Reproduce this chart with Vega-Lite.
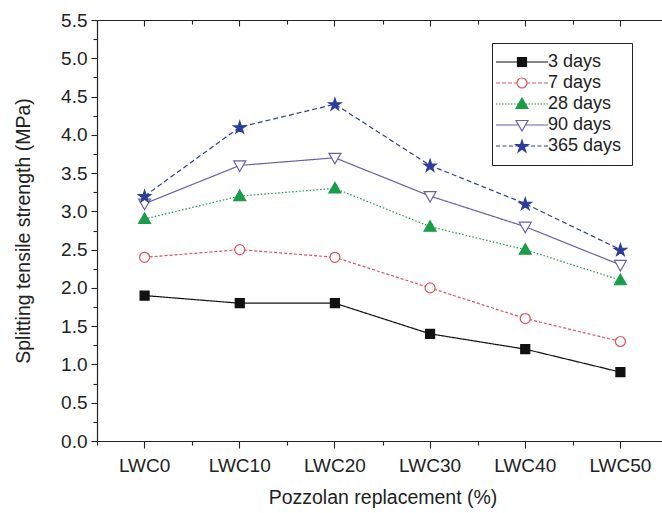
{
  "$schema": "https://vega.github.io/schema/vega-lite/v6.json",
  "autosize": {"type": "none"},
  "width": 571,
  "height": 421,
  "padding": {"left": 97, "top": 20, "right": -6, "bottom": 72},
  "background": "white",
  "config": {
    "view": {"stroke": null},
    "font": "Liberation Sans",
    "axis": {"domainColor": "#222", "tickColor": "#222", "labelColor": "#222", "titleColor": "#222", "titleFontWeight": "normal", "labelFont": "Liberation Sans", "titleFont": "Liberation Sans", "grid": false, "domainWidth": 1.2, "tickWidth": 1.1},
    "legend": {"strokeColor": "#222", "fillColor": "white", "padding": 10, "symbolOffset": 11, "labelOffset": 17, "labelFontSize": 18, "labelFont": "Liberation Sans", "labelColor": "#222", "rowPadding": 3, "symbolSize": 100, "symbolStrokeWidth": 1.2, "symbolOpacity": 1}
  },
  "data": {"values": [
    {"mix": "LWC0", "age": "3 days", "value": 1.9},
    {"mix": "LWC10", "age": "3 days", "value": 1.8},
    {"mix": "LWC20", "age": "3 days", "value": 1.8},
    {"mix": "LWC30", "age": "3 days", "value": 1.4},
    {"mix": "LWC40", "age": "3 days", "value": 1.2},
    {"mix": "LWC50", "age": "3 days", "value": 0.9},
    {"mix": "LWC0", "age": "7 days", "value": 2.4},
    {"mix": "LWC10", "age": "7 days", "value": 2.5},
    {"mix": "LWC20", "age": "7 days", "value": 2.4},
    {"mix": "LWC30", "age": "7 days", "value": 2.0},
    {"mix": "LWC40", "age": "7 days", "value": 1.6},
    {"mix": "LWC50", "age": "7 days", "value": 1.3},
    {"mix": "LWC0", "age": "28 days", "value": 2.9},
    {"mix": "LWC10", "age": "28 days", "value": 3.2},
    {"mix": "LWC20", "age": "28 days", "value": 3.3},
    {"mix": "LWC30", "age": "28 days", "value": 2.8},
    {"mix": "LWC40", "age": "28 days", "value": 2.5},
    {"mix": "LWC50", "age": "28 days", "value": 2.1},
    {"mix": "LWC0", "age": "90 days", "value": 3.1},
    {"mix": "LWC10", "age": "90 days", "value": 3.6},
    {"mix": "LWC20", "age": "90 days", "value": 3.7},
    {"mix": "LWC30", "age": "90 days", "value": 3.2},
    {"mix": "LWC40", "age": "90 days", "value": 2.8},
    {"mix": "LWC50", "age": "90 days", "value": 2.3},
    {"mix": "LWC0", "age": "365 days", "value": 3.2},
    {"mix": "LWC10", "age": "365 days", "value": 4.1},
    {"mix": "LWC20", "age": "365 days", "value": 4.4},
    {"mix": "LWC30", "age": "365 days", "value": 3.6},
    {"mix": "LWC40", "age": "365 days", "value": 3.1},
    {"mix": "LWC50", "age": "365 days", "value": 2.5}
  ]},
  "resolve": {"axis": {"x": "independent", "y": "independent"}, "scale": {"shape": "independent", "fill": "independent", "stroke": "independent"}, "legend": {"shape": "independent", "fill": "independent", "stroke": "independent"}},
  "layer": [
    {
      "mark": {"type": "line", "strokeWidth": 1.2},
      "encoding": {
        "x": {"field": "mix", "type": "nominal", "sort": ["LWC0", "LWC10", "LWC20", "LWC30", "LWC40", "LWC50"], "bandPosition": 0.5,
          "scale": {"type": "band", "paddingInner": 0, "paddingOuter": 0},
          "axis": {"orient": "bottom", "title": "Pozzolan replacement (%)", "labelAngle": 0, "labelFontSize": 19, "titleFontSize": 19.5, "tickSize": 7, "labelPadding": 8, "titlePadding": 13}},
        "y": {"field": "value", "type": "quantitative",
          "scale": {"domain": [0, 5.5], "nice": false},
          "axis": {"orient": "left", "title": "Splitting tensile strength (MPa)", "values": [0, 0.5, 1, 1.5, 2, 2.5, 3, 3.5, 4, 4.5, 5, 5.5], "format": ".1f", "labelFontSize": 19, "titleFontSize": 19.5, "tickSize": 6, "labelPadding": 4, "titlePadding": 27}},
        "color": {"field": "age", "type": "nominal", "scale": {"domain": ["3 days", "7 days", "28 days", "90 days", "365 days"], "range": ["#111111", "#e0525a", "#1a9c4a", "#6b5fa8", "#2d3e9a"]}, "legend": null},
        "strokeDash": {"field": "age", "type": "nominal", "scale": {"domain": ["3 days", "7 days", "28 days", "90 days", "365 days"], "range": [[1, 0], [3, 2], [1.5, 2], [1, 0], [5, 3]]}, "legend": null}
      }
    },
    {
      "mark": {"type": "point", "size": 100, "strokeWidth": 1.2, "opacity": 1},
      "encoding": {
        "x": {"field": "mix", "type": "nominal", "sort": ["LWC0", "LWC10", "LWC20", "LWC30", "LWC40", "LWC50"], "bandPosition": 0.5,
          "axis": {"orient": "bottom", "tickBand": "extent", "labels": false, "domain": false, "title": null, "tickSize": 4}},
        "y": {"field": "value", "type": "quantitative",
          "axis": {"orient": "left", "values": [0.25, 0.75, 1.25, 1.75, 2.25, 2.75, 3.25, 3.75, 4.25, 4.75, 5.25], "labels": false, "domain": false, "title": null, "tickSize": 4}},
        "shape": {"field": "age", "type": "nominal",
          "scale": {"domain": ["3 days", "7 days", "28 days", "90 days", "365 days"],
            "range": ["M-0.9,-0.9H0.9V0.9H-0.9Z", "M1,0A1,1,0,1,1,-1,0A1,1,0,1,1,1,0Z", "M0,-1.2L1.2,0.9L-1.2,0.9Z", "M0,1.2L1.2,-0.9L-1.2,-0.9Z", "M0,-1.18L0.29,-0.28L1.24,-0.28L0.47,0.27L0.76,1.17L0,0.62L-0.76,1.17L-0.47,0.27L-1.24,-0.28L-0.29,-0.28Z"]},
          "legend": null},
        "fill": {"field": "age", "type": "nominal", "scale": {"domain": ["3 days", "7 days", "28 days", "90 days", "365 days"], "range": ["#111111", "#ffffff", "#1a9c4a", "#ffffff", "#2d3e9a"]}, "legend": null},
        "stroke": {"field": "age", "type": "nominal", "scale": {"domain": ["3 days", "7 days", "28 days", "90 days", "365 days"], "range": ["#111111", "#e0525a", "#1a9c4a", "#6b5fa8", "#2d3e9a"]}, "legend": null}
      }
    },
    {
      "transform": [{"filter": "datum.value < 0"}],
      "mark": {"type": "point", "size": 100, "strokeWidth": 1.2, "opacity": 1},
      "encoding": {
        "x": {"field": "mix", "type": "nominal", "sort": ["LWC0", "LWC10", "LWC20", "LWC30", "LWC40", "LWC50"], "bandPosition": 0.5,
          "axis": {"orient": "top", "labels": false, "title": null, "tickSize": -6}},
        "y": {"field": "value", "type": "quantitative",
          "axis": {"orient": "right", "values": [0, 0.5, 1, 1.5, 2, 2.5, 3, 3.5, 4, 4.5, 5, 5.5], "labels": false, "title": null, "tickSize": -6}},
        "shape": {"field": "age", "type": "nominal",
          "scale": {"domain": ["3 days", "7 days", "28 days", "90 days", "365 days"],
            "range": ["M-5.2,0H5.2M-0.9,-0.9H0.9V0.9H-0.9Z", "M-5.2,0H-4.4M-4,0H-3.2M-2.8,0H-2M-1.6,0H-1M1,0H1.6M2,0H2.8M3.2,0H4M4.4,0H5.2M1,0A1,1,0,1,1,-1,0A1,1,0,1,1,1,0Z", "M-5.2,0H-4.9M-4.6,0H-4.3M-4,0H-3.7M-3.4,0H-3.1M-2.8,0H-2.5M-2.2,0H-1.9M-1.6,0H-1.3M-1,0H-0.7M0.7,0H1M1.3,0H1.6M1.9,0H2.2M2.5,0H2.8M3.1,0H3.4M3.7,0H4M4.3,0H4.6M4.9,0H5.2M0,-1.2L1.2,0.9L-1.2,0.9Z", "M-5.2,0H-0.7M0.7,0H5.2M0,1.2L1.2,-0.9L-1.2,-0.9Z", "M-5.2,0H-4.4M-3.9,0H-3.1M-2.6,0H-1.8M-1.3,0H-0.5M0.5,0H1.3M1.8,0H2.6M3.1,0H3.9M4.4,0H5.2M0,-1.18L0.29,-0.28L1.24,-0.28L0.47,0.27L0.76,1.17L0,0.62L-0.76,1.17L-0.47,0.27L-1.24,-0.28L-0.29,-0.28Z"]},
          "legend": {"title": null, "orient": "none", "legendX": 395, "legendY": 23}},
        "fill": {"field": "age", "type": "nominal", "scale": {"domain": ["3 days", "7 days", "28 days", "90 days", "365 days"], "range": ["#111111", "#ffffff", "#1a9c4a", "#ffffff", "#2d3e9a"]}, "legend": {"title": null, "orient": "none", "legendX": 395, "legendY": 23}},
        "stroke": {"field": "age", "type": "nominal", "scale": {"domain": ["3 days", "7 days", "28 days", "90 days", "365 days"], "range": ["#111111", "#e0525a", "#1a9c4a", "#6b5fa8", "#2d3e9a"]}, "legend": {"title": null, "orient": "none", "legendX": 395, "legendY": 23}}
      }
    },
    {
      "mark": {"type": "point", "opacity": 0},
      "encoding": {
        "x": {"field": "mix", "type": "nominal", "sort": ["LWC0", "LWC10", "LWC20", "LWC30", "LWC40", "LWC50"], "bandPosition": 0.5,
          "axis": {"orient": "top", "tickBand": "extent", "labels": false, "domain": false, "title": null, "tickSize": -4}},
        "y": {"field": "value", "type": "quantitative",
          "axis": {"orient": "right", "values": [0.25, 0.75, 1.25, 1.75, 2.25, 2.75, 3.25, 3.75, 4.25, 4.75, 5.25], "labels": false, "domain": false, "title": null, "tickSize": -4}}
      }
    }
  ]
}
